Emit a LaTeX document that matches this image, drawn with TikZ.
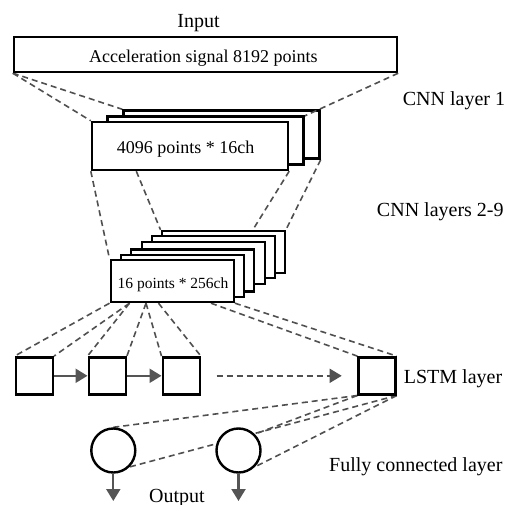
\documentclass[tikz,border=0pt]{standalone}
\usepackage{fontspec}
\setmainfont{Liberation Serif}
\usetikzlibrary{arrows.meta,calc}
\pgfdeclarelayer{bg}
\pgfsetlayers{bg,main}
\definecolor{linkgray}{HTML}{505050}
\definecolor{arrowgray}{HTML}{555555}
\begin{document}
\begin{tikzpicture}[x=1pt,y=-1pt,
  box/.style={draw=black, line width=2.4pt, fill=white, rectangle, inner sep=0pt},
  inbox/.style={box, minimum width=383pt, minimum height=35pt},
  cnnone/.style={box, minimum width=196pt, minimum height=48pt},
  cnntwo/.style={box, minimum width=123pt, minimum height=42pt},
  cell/.style={box, minimum width=37pt, minimum height=37pt},
  neuron/.style={draw=black, line width=2.4pt, fill=white, circle, minimum size=44pt, inner sep=0pt},
  link/.style={draw=linkgray, line width=1.6pt, dash pattern=on 6pt off 4pt},
  flow/.style={draw=arrowgray, line width=2.2pt, -{Triangle[length=12pt,width=14pt]}},
  dflow/.style={link, -{Triangle[length=12pt,width=14pt]}},
  lbl/.style={font=\fontsize{20}{24}\selectfont, anchor=base, inner sep=0pt},
  boxtxt/.style={font=\fontsize{18}{22}\selectfont, anchor=base, inner sep=0pt},
  smalltxt/.style={font=\fontsize{15.5}{19}\selectfont, anchor=base, inner sep=0pt}
]
\useasboundingbox (0,0) rectangle (511,505);

% input
\node[inbox] (inp) at (205.5,54.5) {};
\node[boxtxt] (inptxt) at (203.3,62.7) {Acceleration signal 8192 points};
\node[lbl] (inlbl) at (198.5,27.7) {Input};

% CNN layer 1
\coordinate (c1bne) at (303.5,116.5);
\node[cnnone] (c1c) at (221.5,134.5) {};
\draw[link] (inp.south east) -- (c1bne);
\node[cnnone] (c1b) at (205.5,140.5) {};
\node[cnnone] (c1a) at (190,146) {};
\node[boxtxt] (c1txt) at (185.5,153.3) {4096 points * 16ch};
\node[lbl] (c1lbl) at (454,106) {CNN layer 1};

% CNN layers 2-9
\node[cnntwo] (c2f) at (223.2,252) {};
\node[cnntwo] (c2e) at (213.2,257) {};
\node[cnntwo] (c2d) at (203.2,262.7) {};
\node[cnntwo] (c2c) at (192.2,270.3) {};
\node[cnntwo] (c2b) at (182.2,276) {};
\node[cnntwo] (c2a) at (172.2,281) {};
\node[smalltxt] (c2txt) at (173,288.3) {16 points * 256ch};
\node[lbl] (c2lbl) at (440.3,216.7) {CNN layers 2-9};

% LSTM
\node[cell] (l1) at (34.3,375.8) {};
\node[cell] (l2) at (107.2,375.8) {};
\node[cell] (l3) at (181.2,375.8) {};
\node[cell] (l4) at (377,375.8) {};
\node[lbl] (llbl) at (453,383.3) {LSTM layer};

% fully connected
\node[neuron] (f1) at (113.3,450.5) {};
\node[neuron] (f2) at (238.5,450.5) {};
\node[lbl] (flbl) at (415.8,471.7) {Fully connected layer};
\node[lbl] (olbl) at (177,502) {Output};

% coordinates
\coordinate (c1m) at ($(c1a.south west)+(45.5,0)$);
\coordinate (p1) at ($(c2a.south west)+(20,0)$);
\coordinate (p2) at ($(c2a.south west)+(36.5,0)$);
\coordinate (p3) at ($(c2a.south west)+(49,0)$);
\coordinate (p4) at ($(c2a.south west)+(101.5,0)$);
\coordinate (dstart) at (216.7,375.8);
\coordinate (dend) at (341.7,375.8);
\coordinate (o1) at (113.3,501);
\coordinate (o2) at (238.5,501);

\begin{pgfonlayer}{bg}
  \draw[link] (inp.south west) -- (c1c.north west);
  \draw[link] (inp.south west) -- (c1a.north west);
  \draw[link] (c1a.south west) -- (c2a.north west);
  \draw[link] (c1m) -- (c2f.north west);
  \draw[link] (c1a.south east) -- (c2a.north east);
  \draw[link] (c1c.south east) -- (c2f.north east);
  \draw[link] (c2a.south west) -- (l1.north west);
  \draw[link] (p1) -- (l1.north east);
  \draw[link] (p1) -- (l2.north west);
  \draw[link] (p2) -- (l2.north east);
  \draw[link] (p2) -- (l3.north west);
  \draw[link] (p3) -- (l3.north east);
  \draw[link] (p4) -- (l4.north west);
  \draw[link] (c2a.south east) -- (l4.north east);
  \draw[link] (l4.south west) -- (f1.north);
  \draw[link] (l4.south west) -- (f2.north east);
  \draw[link] (l4.south east) -- (f1.south east);
  \draw[link] (l4.south east) -- (f2.south east);
\end{pgfonlayer}

\draw[flow] (l1) -- (l2);
\draw[flow] (l2) -- (l3);
\draw[dflow] (dstart) -- (dend);
\draw[flow] (f1) -- (o1);
\draw[flow] (f2) -- (o2);
\end{tikzpicture}
\end{document}
